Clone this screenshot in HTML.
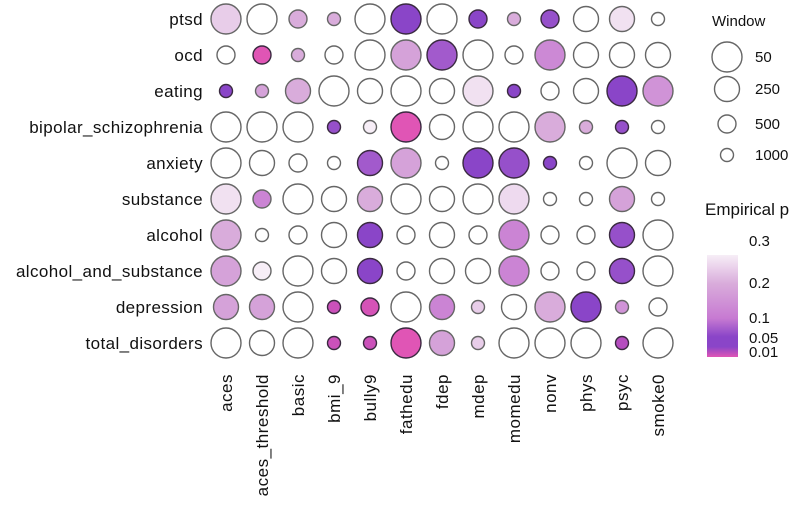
<!DOCTYPE html>
<html><head><meta charset="utf-8"><style>
html,body{margin:0;padding:0;background:#fff;}
svg{display:block;font-family:"Liberation Sans",sans-serif;}
</style></head><body>
<svg id="chart" width="804" height="514" viewBox="0 0 804 514">
<defs>
<linearGradient id="cbar" x1="0" y1="0" x2="0" y2="1">
<stop offset="0" stop-color="#f7eef7"/>
<stop offset="0.28" stop-color="#d9acdb"/>
<stop offset="0.62" stop-color="#c77ad2"/>
<stop offset="0.8" stop-color="#8a45c8"/>
<stop offset="0.9" stop-color="#8a45c8"/>
<stop offset="1" stop-color="#e055b5"/>
</linearGradient>
</defs>
<g id="grid"></g>
<g id="ylab"></g>
<g id="xlab"></g>
<g>
<text x="712" y="26" font-size="15" fill="#111">Window</text>
<g id="sizeleg"></g>
</g>
<g>
<text x="705" y="215" font-size="17" fill="#111">Empirical p</text>
<rect x="707" y="255" width="31" height="102" fill="url(#cbar)"/>
<g id="cbticks"></g>
</g>
</svg>
<script>
const rows = ["ptsd","ocd","eating","bipolar_schizophrenia","anxiety","substance","alcohol","alcohol_and_substance","depression","total_disorders"];
const cols = ["aces","aces_threshold","basic","bmi_9","bully9","fathedu","fdep","mdep","momedu","nonv","phys","psyc","smoke0"];
const windows = [
[50,50,500,1000,50,50,50,500,1000,500,250,250,1000],
[500,500,1000,500,50,50,50,50,500,50,250,250,250],
[1000,1000,250,50,250,50,250,50,1000,500,250,50,50],
[50,50,50,1000,1000,50,250,50,50,50,1000,1000,1000],
[50,250,500,1000,250,50,1000,50,50,1000,1000,50,250],
[50,500,50,250,250,50,250,50,50,1000,1000,250,1000],
[50,1000,500,250,250,500,250,500,50,500,500,250,50],
[50,500,50,250,250,500,250,250,50,500,500,250,50],
[250,250,50,1000,500,50,250,1000,250,50,50,1000,500],
[50,250,50,1000,1000,50,250,1000,50,50,50,1000,50]
];
const pvals = [
[0.25,1,0.2,0.2,1,0.05,1,0.05,0.2,0.06,1,0.28,1],
[1,0.01,0.2,1,1,0.18,0.07,1,1,0.13,1,1,1],
[0.05,0.18,0.2,1,1,1,1,0.28,0.05,1,1,0.05,0.15],
[1,1,1,0.06,0.3,0.01,1,1,1,0.2,0.2,0.06,1],
[1,1,1,1,0.07,0.18,1,0.05,0.06,0.05,1,1,1],
[0.28,0.12,1,1,0.2,1,1,1,0.27,1,1,0.18,1],
[0.2,1,1,1,0.05,1,1,1,0.12,1,1,0.06,1],
[0.18,0.3,1,1,0.05,1,1,1,0.12,1,1,0.06,1],
[0.18,0.18,1,0.02,0.015,1,0.12,0.25,1,0.2,0.05,0.15,1],
[1,1,1,0.02,0.02,0.01,0.18,0.25,1,1,1,0.03,1]
];
const legendWindows = [50,250,500,1000];
const cbTicks = [0.3,0.2,0.1,0.05,0.01];

const NS="http://www.w3.org/2000/svg";
const x0=226, dx=36, y0=19, dy=36.0;
function xPos(i){return x0+i*dx;}
function yPos(j){return y0+j*dy;}
function rScale(w){return w<=50?15:w<=250?12.5:w<=500?9:6.5;}
const stops=[[0.01,[224,85,181]],[0.05,[138,69,200]],[0.1,[199,122,210]],[0.2,[217,172,219]],[0.3,[247,238,247]]];
function color(p){
 if(p>0.3) return "#ffffff";
 if(p<=0.01) return "rgb(224,85,181)";
 for(let k=0;k<stops.length-1;k++){const a=stops[k],b=stops[k+1];
  if(p<=b[0]){const t=(p-a[0])/(b[0]-a[0]);const c=a[1].map((v,i)=>Math.round(v+(b[1][i]-v)*t));return "rgb("+c.join(",")+")";}}
 return "#ffffff";
}
function cbY(p){const m=[[0.3,241],[0.2,283],[0.1,318],[0.05,338],[0.01,352]];
 for(let k=0;k<m.length-1;k++){if(p<=m[k][0]&&p>=m[k+1][0]){const t=(m[k][0]-p)/(m[k][0]-m[k+1][0]);return m[k][1]+t*(m[k+1][1]-m[k][1]);}}return 352;}
const grid=document.getElementById("grid");
rows.forEach((r,j)=>{cols.forEach((c,i)=>{
 const e=document.createElementNS(NS,"circle");
 e.setAttribute("cx",xPos(i));e.setAttribute("cy",yPos(j));
 e.setAttribute("r",rScale(windows[j][i]));
 e.setAttribute("fill",color(pvals[j][i]));
 e.setAttribute("stroke",pvals[j][i]<0.1?"#3a2a40":"#666");
 e.setAttribute("stroke-width","1.4");
 
 
 grid.appendChild(e);});});
const yl=document.getElementById("ylab");
rows.forEach((r,j)=>{const t=document.createElementNS(NS,"text");
 t.setAttribute("x",203);t.setAttribute("y",yPos(j)+6);t.setAttribute("text-anchor","end");
 t.setAttribute("font-size","17");t.setAttribute("letter-spacing","0.4");t.setAttribute("fill","#111");t.textContent=r;
 
 
 yl.appendChild(t);});
const xl=document.getElementById("xlab");
cols.forEach((c,i)=>{const t=document.createElementNS(NS,"text");
 const x=xPos(i)+6,y=374;
 t.setAttribute("transform","translate("+x+","+y+") rotate(-90)");
 t.setAttribute("text-anchor","end");t.setAttribute("font-size","17");t.setAttribute("letter-spacing","0.5");t.setAttribute("fill","#111");
 t.textContent=c;
 
 
 xl.appendChild(t);});
const sl=document.getElementById("sizeleg");
legendWindows.forEach((w,k)=>{const cy=[57,89,124,155][k];
 const e=document.createElementNS(NS,"circle");
 e.setAttribute("cx",727);e.setAttribute("cy",cy);e.setAttribute("r",rScale(w));
 e.setAttribute("fill","#fff");e.setAttribute("stroke","#666");e.setAttribute("stroke-width","1.4");
 
 
 sl.appendChild(e);
 const t=document.createElementNS(NS,"text");
 t.setAttribute("x",755);t.setAttribute("y",cy+5);t.setAttribute("font-size","15");t.setAttribute("fill","#111");
 t.textContent=w;
 
 
 sl.appendChild(t);});
const cb=document.getElementById("cbticks");
cbTicks.forEach(p=>{const t=document.createElementNS(NS,"text");
 t.setAttribute("x",749);t.setAttribute("y",cbY(p)+5);t.setAttribute("font-size","15");t.setAttribute("fill","#111");
 t.textContent=p;
 
 
 cb.appendChild(t);});
</script>
</body></html>
